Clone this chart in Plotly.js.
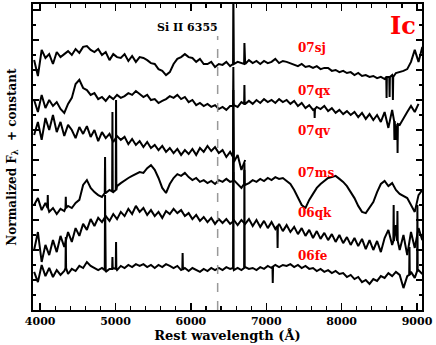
<!DOCTYPE html>
<html>
<head>
<meta charset="utf-8">
<script src="https://cdn.plot.ly/plotly-3.0.1.min.js"></script>
<style>
  html, body { margin: 0; padding: 0; background: #fff; }
  #chart { width: 436px; height: 345px; }
</style>
</head>
<body>
<div id="chart"></div>
<script>
// wavelength grid (Angstrom) shared by all spectra
let wave = [3920,3970,4020,4070,4120,4170,4220,4270,4320,4370,4420,4470,4520,4570,4620,4670,4720,4770,4820,4870,
  4920,4970,5020,5070,5120,5170,5220,5270,5320,5370,5420,5470,5520,5570,5620,5670,5720,5770,5820,5870,
  5920,5970,6020,6070,6120,6170,6220,6270,6320,6370,6420,6470,6520,6570,6620,6670,6720,6770,6820,6870,
  6920,6970,7020,7070,7120,7170,7220,7270,7320,7370,7420,7470,7520,7570,7620,7670,7720,7770,7820,7870,
  7920,7970,8020,8070,8120,8170,8220,8270,8320,8370,8420,8470,8520,8570,8620,8670,8720,8770,8820,8870,
  8920,8970,9020,9070];

// normalized flux + constant
let flux07sj = [8.33,7.80,8.67,8.40,8.53,8.20,8.60,8.43,8.53,8.63,
  8.50,8.70,8.57,8.77,8.80,8.67,8.60,8.70,8.50,8.60,
  8.33,8.53,8.43,8.40,8.53,8.30,8.47,8.27,8.43,8.40,
  8.33,8.23,8.20,8.03,7.97,7.83,7.93,8.20,8.37,8.43,
  8.53,8.43,8.40,8.27,8.37,8.20,8.20,8.27,8.10,8.20,
  8.17,8.27,8.13,8.20,8.27,8.23,8.20,8.33,8.23,8.30,
  8.20,8.30,8.23,8.27,8.37,8.23,8.30,8.27,8.23,8.17,
  8.13,8.20,8.10,8.13,8.07,8.13,8.03,8.07,8.07,7.97,
  8.00,7.93,7.97,7.90,7.93,7.83,7.90,7.80,7.83,7.77,
  7.80,7.73,7.77,7.70,7.77,7.83,7.90,7.93,7.97,8.03,
  8.27,8.67,8.27,8.77];

let flux07qx = [7.00,6.60,7.17,6.73,7.00,6.80,6.93,6.70,6.57,6.87,
  7.07,7.53,7.67,7.40,7.33,7.17,7.23,7.03,7.10,6.97,
  7.13,7.03,7.17,7.07,7.13,7.23,7.17,7.30,7.20,7.10,
  7.17,7.00,7.03,6.90,6.97,7.03,7.13,7.07,7.17,7.03,
  7.10,6.93,7.00,6.83,6.90,6.80,6.87,6.77,6.83,6.70,
  6.77,6.67,6.80,6.83,6.77,6.93,6.87,6.97,6.87,7.00,
  6.90,7.03,6.93,7.00,6.90,7.03,6.93,7.00,6.87,6.97,
  6.80,6.90,6.73,6.83,6.67,6.77,6.70,6.80,6.63,6.73,
  6.57,6.67,6.53,6.63,6.50,6.60,6.43,6.57,6.37,6.53,
  6.33,6.50,6.27,6.60,6.07,6.67,5.67,6.17,6.40,6.60,
  6.80,6.60,6.87];

let flux07qv = [5.83,6.27,5.67,6.40,6.00,6.50,5.93,6.27,5.80,6.17,
  6.00,5.73,6.10,5.87,6.13,5.77,6.00,5.63,5.93,5.73,
  5.87,5.60,5.80,5.67,5.77,5.53,5.70,5.50,5.63,5.43,
  5.60,5.40,5.50,5.33,5.47,5.27,5.40,5.23,5.37,5.17,
  5.33,5.20,5.37,5.17,5.40,5.27,5.47,5.30,5.43,5.23,
  5.33,5.10,5.27,4.93,5.17,4.67,5.00];

let flux07ms = [3.50,3.73,3.33,3.57,3.27,3.40,3.20,3.37,3.30,3.47,
  3.40,3.57,3.67,4.17,4.33,4.07,3.93,3.83,3.77,3.90,
  4.00,3.93,4.13,4.23,4.33,4.40,4.47,4.53,4.60,4.57,
  4.73,4.83,4.67,4.40,4.07,3.90,4.20,4.40,4.53,4.47,
  4.57,4.43,4.33,4.40,4.27,4.33,4.23,4.30,4.20,4.33,
  4.27,4.37,4.27,4.33,4.20,4.07,4.17,4.23,4.33,4.27,
  4.37,4.30,4.40,4.33,4.43,4.37,4.40,4.30,4.20,4.00,
  3.73,3.50,3.40,3.67,3.87,4.07,4.20,4.30,4.40,4.43,
  4.47,4.37,4.27,4.13,3.93,3.73,3.47,3.27,3.23,3.40,
  3.60,3.93,4.20,4.30,4.13,4.23,4.00,3.87,3.80,3.73,
  3.50,3.27,3.83,4.00];

let flux06qk = [2.00,2.60,1.60,2.17,1.83,2.33,1.93,2.47,2.10,2.60,
  2.27,2.73,2.47,2.87,2.67,3.03,2.80,3.07,2.93,3.13,
  2.97,3.20,3.03,3.27,3.13,3.37,3.20,3.47,3.27,3.40,
  3.17,3.33,3.13,3.27,3.07,3.30,3.20,3.37,3.23,3.33,
  3.13,3.23,3.03,3.17,2.97,3.10,2.93,3.07,2.87,3.03,
  2.90,3.03,2.87,3.00,2.83,3.00,2.87,3.03,2.80,3.00,
  2.77,2.97,2.73,2.93,2.70,2.87,2.63,2.83,2.60,2.77,
  2.53,2.73,2.47,2.67,2.40,2.63,2.37,2.57,2.33,2.53,
  2.27,2.50,2.23,2.43,2.17,2.40,2.13,2.37,2.03,2.33,
  2.00,2.30,1.93,2.40,2.67,2.17,2.83,2.00,2.50,1.83,
  2.60,2.07,2.73,2.33];

let flux06fe = [1.27,0.93,1.50,1.13,1.40,1.10,1.33,1.17,1.30,1.20,
  1.37,1.30,1.47,1.40,1.60,1.47,1.40,1.33,1.40,1.27,
  1.37,1.40,1.33,1.47,1.40,1.50,1.43,1.53,1.47,1.53,
  1.43,1.50,1.40,1.50,1.43,1.53,1.47,1.40,1.47,1.33,
  1.40,1.30,1.40,1.33,1.27,1.37,1.30,1.40,1.33,1.40,
  1.33,1.43,1.37,1.33,1.40,1.33,1.43,1.37,1.40,1.33,
  1.43,1.37,1.47,1.40,1.50,1.43,1.50,1.47,1.53,1.43,
  1.50,1.40,1.47,1.37,1.40,1.30,1.37,1.27,1.33,1.23,
  1.30,1.20,1.23,1.10,1.17,1.03,1.10,0.93,1.00,0.87,
  1.03,0.97,1.13,1.07,1.23,1.13,1.27,1.17,0.73,1.13,
  1.27,1.07,1.33,1.20];

// narrow emission / telluric features: [wavelength, continuum, peak]
let lines07sj = [[6563, 8.20, 10.6], [6710, 8.20, 8.90], [8596, 7.77, 7.07], [8636, 7.77, 7.10], [8680, 7.77, 7.00]];
let lines07qx = [[6563, 6.80, 8.10], [6710, 6.87, 7.50], [7642, 6.70, 6.40], [8700, 6.30, 5.67], [8742, 6.20, 5.23]];
let lines07qv = [[6563, 5.10, 6.90]];
let lines07ms = [[4101, 3.40, 3.83], [4340, 3.40, 3.77], [4861, 3.90, 5.10], [4959, 3.95, 6.60], [5007, 4.00, 7.00], [6563, 4.30, 7.33], [6710, 4.20, 4.90]];
let lines06qk = [[6563, 2.95, 4.60], [7150, 2.80, 2.07], [8690, 2.30, 3.50], [8740, 2.30, 3.30]];
let lines06fe = [[4340, 1.40, 2.43], [4861, 1.33, 3.83], [4959, 1.37, 1.77], [5007, 1.37, 2.27], [5890, 1.35, 1.90],
  [6563, 1.40, 5.33], [6710, 1.40, 4.67], [7086, 1.45, 0.90], [8900, 1.17, 2.10], [9005, 1.30, 3.50]];

let names = ["07sj", "07qx", "07qv", "07ms", "06qk", "06fe"];
let labelFlux = [8.73, 7.30, 5.97, 4.57, 3.23, 1.80];
let siWave = 6355;

let fluxes = [flux07sj, flux07qx, flux07qv, flux07ms, flux06qk, flux06fe];
let lineSets = [lines07sj, lines07qx, lines07qv, lines07ms, lines06qk, lines06fe];

let serif = "DejaVu Serif";

// merge the continuum and the narrow lines into one sorted series
function buildSeries(flux, lines) {
  let pts = [];
  for (let i = 0; i < flux.length; i++) {
    pts.push([wave[i], flux[i]]);
  }
  for (let j = 0; j < lines.length; j++) {
    let l = lines[j];
    pts.push([l[0] - 4, l[1]]);
    pts.push([l[0], l[2]]);
    pts.push([l[0] + 4, l[1]]);
  }
  pts.sort(function(a, b) { return a[0] - b[0]; });
  return {x: pts.map(p => p[0]), y: pts.map(p => p[1])};
}

let data = [];
for (let k = 0; k < fluxes.length; k++) {
  let s = buildSeries(fluxes[k], lineSets[k]);
  data.push({
    x: s.x,
    y: s.y,
    type: "scatter",
    mode: "lines",
    line: {color: "black", width: 2},
    hoverinfo: "skip",
    showlegend: false
  });
}

let annotations = [];
for (let k = 0; k < names.length; k++) {
  annotations.push({
    x: 7390, y: labelFlux[k], xref: "x", yref: "y",
    text: names[k], showarrow: false, xanchor: "left", yanchor: "middle",
    font: {family: serif, size: 12, color: "#ff0000", weight: "bold"}
  });
}
annotations.push({
  x: 8808, y: 9.5, xref: "x", yref: "y", text: "Ic", showarrow: false,
  xanchor: "center", yanchor: "middle",
  font: {family: serif, size: 24, color: "#ff0000", weight: "bold"}
});
annotations.push({
  x: 6385, y: 9.42, xref: "x", yref: "y", text: "Si II 6355", showarrow: false,
  xanchor: "right", yanchor: "middle",
  font: {family: serif, size: 11, color: "black", weight: "bold"}
});

let layout = {
  width: 436,
  height: 345,
  margin: {l: 33, r: 14, t: 4, b: 35},
  paper_bgcolor: "white",
  plot_bgcolor: "white",
  showlegend: false,
  xaxis: {
    range: [3905, 9066],
    dtick: 1000,
    ticks: "inside",
    ticklen: 7,
    tickwidth: 1.5,
    tickcolor: "black",
    minor: {dtick: 200, ticks: "inside", ticklen: 4, tickwidth: 1.2, tickcolor: "black"},
    showline: true,
    linewidth: 2,
    linecolor: "black",
    mirror: "allticks",
    showgrid: false,
    zeroline: false,
    tickfont: {family: serif, size: 11, color: "black", weight: "bold"},
    title: {text: "Rest wavelength (Å)", standoff: 3,
            font: {family: serif, size: 13, color: "black", weight: "bold"}}
  },
  yaxis: {
    range: [0, 10.2],
    tick0: 0,
    dtick: 1,
    ticks: "inside",
    ticklen: 6,
    tickwidth: 1.5,
    tickcolor: "black",
    minor: {dtick: 0.5, ticks: "inside", ticklen: 3, tickwidth: 1.2, tickcolor: "black"},
    showticklabels: false,
    showline: true,
    linewidth: 2,
    linecolor: "black",
    mirror: "allticks",
    showgrid: false,
    zeroline: false,
    title: {text: "Normalized F<sub>λ</sub>  + constant", standoff: 12,
            font: {family: serif, size: 12, color: "black", weight: "bold"}}
  },
  shapes: [{
    type: "line", xref: "x", yref: "y",
    x0: siWave, x1: siWave, y0: 0, y1: 9.13,
    line: {color: "#999999", width: 1.5, dash: "dash"}
  }],
  annotations: annotations
};

Plotly.newPlot("chart", data, layout, {staticPlot: true});
</script>
</body>
</html>
